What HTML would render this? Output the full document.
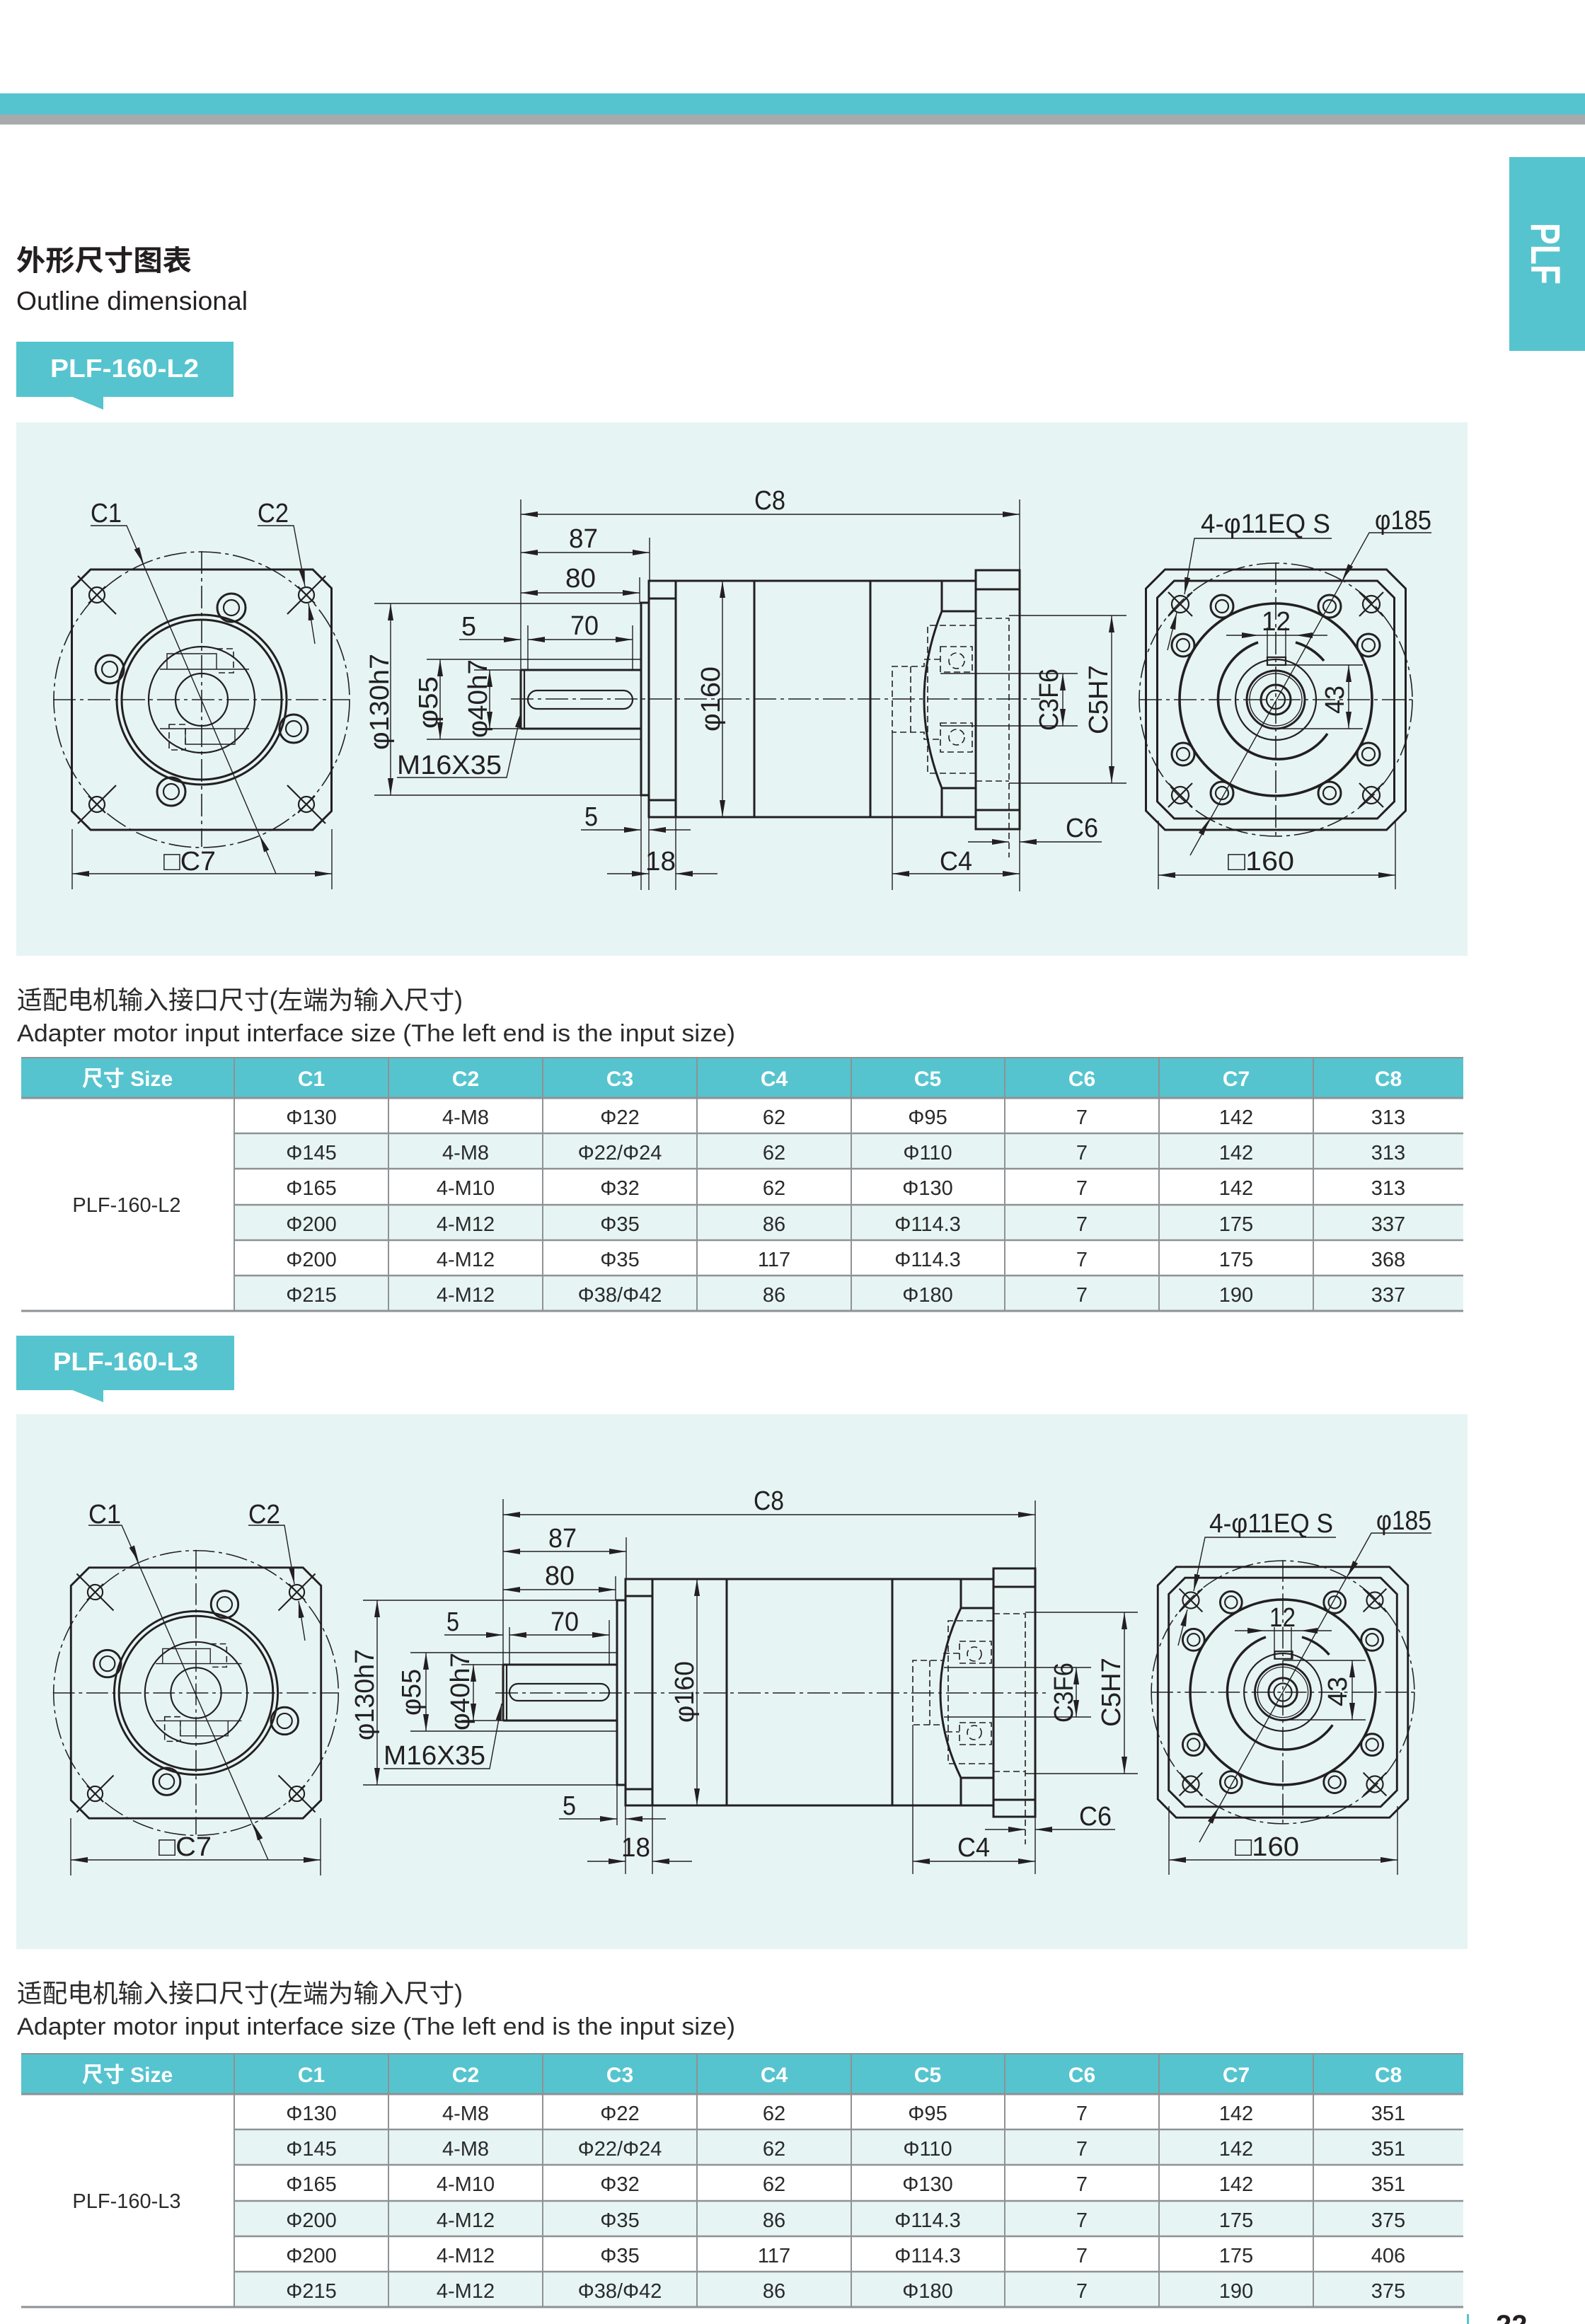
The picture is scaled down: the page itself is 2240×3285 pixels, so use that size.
<!DOCTYPE html>
<html><head><meta charset="utf-8"><style>
html,body{margin:0;padding:0;background:#fff;}
body{width:2240px;height:3285px;overflow:hidden;}
svg{display:block;}
.k{fill:none;stroke:#231f20;stroke-width:3}
.kk{fill:none;stroke:#231f20;stroke-width:3.6}
.m{fill:none;stroke:#231f20;stroke-width:2.2}
.t{fill:none;stroke:#231f20;stroke-width:1.4}
.d{fill:none;stroke:#231f20;stroke-width:1.6;stroke-dasharray:9 5}
.c{fill:none;stroke:#231f20;stroke-width:1.6;stroke-dasharray:32 6 5 6}
.dim{fill:none;stroke:#231f20;stroke-width:1.4;marker-start:url(#a);marker-end:url(#a)}
.ae{fill:none;stroke:#231f20;stroke-width:1.4;marker-end:url(#a)}
.ar{fill:none;stroke:none;marker-end:url(#a)}
.dt{font-family:"Liberation Sans",sans-serif;font-size:38px;fill:#231f20}
.cell{font-family:"Liberation Sans",sans-serif;font-size:29px;fill:#2a2a2a;text-anchor:middle}
.hd{font-family:"Liberation Sans","Noto Sans CJK SC",sans-serif;font-size:30px;font-weight:bold;fill:#fff;text-anchor:middle}
.gl{stroke:#8e9295;fill:none}
</style></head><body>
<svg width="2240" height="3285" viewBox="0 0 2240 3285" xmlns="http://www.w3.org/2000/svg">
<defs>
<marker id="a" viewBox="0 0 24 8" refX="24" refY="4" markerWidth="24" markerHeight="8" markerUnits="userSpaceOnUse" orient="auto-start-reverse"><path d="M0,0L24,4L0,8z" fill="#231f20"/></marker>
<g id="hx"><circle class="m" r="12"/><path class="m" d="M-17,-17L17,17M-17,17L17,-17"/></g>
<g id="hxL"><circle class="m" r="11"/><path class="m" d="M-27,-27L27,27M-12,12L12,-12"/></g>
<g id="bh"><circle class="k" r="16"/><circle class="m" r="9"/></g>
<g id="bhL"><circle class="k" r="20"/><circle class="m" r="11"/></g>
<g id="LV">
<path class="k" d="M-157,-184H157L183.5,-157.5V157.5L157,184H-157L-183.5,157.5V-157.5Z"/>
<circle class="c" r="209"/>
<path class="c" d="M-210,0H209M0,-210V208"/>
<use href="#hxL" x="-148" y="-148"/>
<use href="#hxL" transform="translate(148,-148) rotate(90)"/>
<use href="#hxL" transform="translate(-148,148) rotate(90)"/>
<use href="#hxL" x="148" y="148"/>
<use href="#bhL" x="42" y="-130"/>
<use href="#bhL" x="-130" y="-43"/>
<use href="#bhL" x="130" y="41"/>
<use href="#bhL" x="-43" y="130"/>
<circle class="k" r="120"/><circle class="k" r="113"/><circle class="m" r="75"/><circle class="m" r="37"/>
<path class="t" d="M-49,-65H21V-43H-49Z M-59,-43H67"/>
<path class="d" d="M21,-72H45V-38H21"/>
<path class="d" d="M-46,35H-23V71H-46Z"/>
<path class="t" d="M-23,41H47V63H-23Z M-59,41H67"/>
</g>
<g id="RV">
<path class="k" d="M-156.5,-184H156.5L183.5,-157V157L156.5,184H-156.5L-183.5,157V-157Z"/>
<path class="k" d="M-143.5,-168H143.5L167.5,-144V144L143.5,168H-143.5L-167.5,144V-144Z"/>
<circle class="c" r="193"/>
<path class="c" d="M-193,0H195M0,-194V194"/>
<use href="#hx" x="-135" y="-135"/><use href="#hx" x="135" y="-135"/>
<use href="#hx" x="-135" y="135"/><use href="#hx" x="135" y="135"/>
<use href="#bh" x="-76" y="-132"/><use href="#bh" x="76" y="-132"/>
<use href="#bh" x="-131" y="-77"/><use href="#bh" x="131" y="-77"/>
<use href="#bh" x="-131" y="77"/><use href="#bh" x="131" y="77"/>
<use href="#bh" x="-76" y="132"/><use href="#bh" x="76" y="132"/>
<circle class="kk" r="136"/>
<path class="kk" d="M-25,-81A85,85 0 1 0 73,48"/>
<path class="kk" d="M28,-81A85,85 0 0 1 68,-55"/>
<circle class="m" r="57"/>
<circle class="k" r="41"/><circle class="t" r="37"/>
<circle class="k" r="21"/><circle class="m" r="13"/>
<rect class="m" x="-12" y="-60" width="26" height="11"/>
</g>
</defs>

<!-- header bars -->
<rect x="0" y="0" width="2240" height="3285" fill="#fff"/>
<rect x="0" y="132" width="2240" height="30" fill="#56c4ce"/>
<rect x="0" y="162" width="2240" height="14" fill="#a7a9ac"/>
<rect x="2133" y="222" width="107" height="274" fill="#56c4ce"/>
<text transform="translate(2164,315) rotate(90)" font-family="Liberation Sans,sans-serif" font-size="58" font-weight="bold" fill="#fff" textLength="87" lengthAdjust="spacingAndGlyphs">PLF</text>

<text x="23" y="382" font-family="Liberation Sans,Noto Sans CJK SC,sans-serif" font-size="40" font-weight="bold" fill="#231f20" textLength="248" lengthAdjust="spacingAndGlyphs">外形尺寸图表</text>
<text x="23" y="438" font-family="Liberation Sans,sans-serif" font-size="37" fill="#231f20" textLength="327" lengthAdjust="spacingAndGlyphs">Outline dimensional</text>

<!-- label 1 -->
<rect x="23" y="483" width="307" height="78" fill="#56c4ce"/>
<polygon points="100,560 146,560 146,579" fill="#56c4ce"/>
<text x="71" y="533" font-family="Liberation Sans,sans-serif" font-size="36" font-weight="bold" fill="#fff" textLength="210" lengthAdjust="spacingAndGlyphs">PLF-160-L2</text>

<!-- panel 1 -->
<rect x="23" y="597" width="2051" height="754" fill="#e6f4f4"/>

<!-- Drawing 1 left view -->
<use href="#LV" transform="translate(285,989)"/>
<text class="dt" x="128" y="738" textLength="44" lengthAdjust="spacingAndGlyphs">C1</text>
<path class="t" d="M128,743H179L390,1235"/>
<path class="ar" d="M199,788L203,797"/>
<path class="ar" d="M371,1190L367,1181"/>
<text class="dt" x="364" y="738" textLength="44" lengthAdjust="spacingAndGlyphs">C2</text>
<path class="ae" d="M364,743H415L431,829"/>
<path class="ae" d="M445,910L436,853"/>
<path class="dim" d="M102,1235H469"/>
<path class="t" d="M102,1172V1257M469,1172V1257"/>
<text class="dt" x="231" y="1230" textLength="74" lengthAdjust="spacingAndGlyphs">□C7</text>

<!-- Drawing 1 middle view -->
<path class="k" d="M736,947H906M736,1030H906M736,947V1030"/>
<path class="m" d="M741,947V1030"/>
<rect class="m" x="746" y="976" width="148" height="26" rx="13"/>
<rect class="k" x="906" y="852" width="11" height="272"/>
<rect class="k" x="917" y="821" width="38" height="334"/>
<path class="k" d="M917,846H955M917,1131H955"/>
<rect class="k" x="955" y="821" width="424" height="334"/>
<path class="k" d="M1066,821V1155M1230,821V1155"/>
<path class="k" d="M1331,821V864Q1281,989 1331,1114V1155M1331,864H1379M1331,1114H1379"/>
<rect class="k" x="1379" y="806" width="62" height="366"/>
<path class="k" d="M1379,833H1441M1379,1145H1441"/>
<path class="d" d="M1379,874H1426V1212M1379,1104H1426"/>
<path class="d" d="M1379,884H1311V1093H1379"/>
<rect class="d" x="1329" y="914" width="45" height="36"/>
<rect class="d" x="1329" y="1022" width="45" height="41"/>
<circle class="d" cx="1352" cy="934" r="11"/>
<circle class="d" cx="1352" cy="1042" r="11"/>
<path class="d" d="M1329,932H1306V942H1261V1035H1306V1045H1329M1287,942V1035"/>
<path class="c" d="M722,988H1470"/>
<!-- dims -->
<path class="t" d="M736,706V947M1441,706V806"/>
<path class="dim" d="M736,727H1441"/>
<text class="dt" x="1066" y="720" textLength="44" lengthAdjust="spacingAndGlyphs">C8</text>
<path class="t" d="M918,760V821"/>
<path class="dim" d="M736,781H918"/>
<text class="dt" x="804" y="774" textLength="41" lengthAdjust="spacingAndGlyphs">87</text>
<path class="t" d="M904,816V852"/>
<path class="dim" d="M736,838H904"/>
<text class="dt" x="799" y="830" textLength="43" lengthAdjust="spacingAndGlyphs">80</text>
<path class="t" d="M746,884V947M894,884V947"/>
<path class="dim" d="M746,904H894"/>
<text class="dt" x="806" y="897" textLength="40" lengthAdjust="spacingAndGlyphs">70</text>
<path class="ae" d="M649,904H736"/>
<text class="dt" x="652" y="898" textLength="21" lengthAdjust="spacingAndGlyphs">5</text>
<path class="t" d="M529,853H906M529,1124H906"/>
<path class="dim" d="M552,853V1124"/>
<text class="dt" transform="translate(549,1060) rotate(-90)" textLength="136" lengthAdjust="spacingAndGlyphs">φ130h7</text>
<path class="t" d="M603,932H906M603,1045H906"/>
<path class="dim" d="M622,932V1045"/>
<text class="dt" transform="translate(618,1030) rotate(-90)" textLength="74" lengthAdjust="spacingAndGlyphs">φ55</text>
<path class="t" d="M670,947H736M670,1030H736"/>
<path class="dim" d="M692,947V1030"/>
<text class="dt" transform="translate(688,1043) rotate(-90)" textLength="111" lengthAdjust="spacingAndGlyphs">φ40h7</text>
<text class="dt" x="561" y="1094" textLength="148" lengthAdjust="spacingAndGlyphs">M16X35</text>
<path class="ae" d="M561,1099H716L737,1005"/>
<text class="dt" x="826" y="1167" textLength="19" lengthAdjust="spacingAndGlyphs">5</text>
<path class="ae" d="M821,1173H906"/>
<path class="ae" d="M976,1173H917"/>
<path class="t" d="M906,1124V1258M917,1155V1258M955,1155V1258"/>
<path class="ae" d="M858,1235H917"/>
<path class="ae" d="M1014,1235H955"/>
<text class="dt" x="912" y="1230" textLength="43" lengthAdjust="spacingAndGlyphs">18</text>
<path class="dim" d="M1021,821V1155"/>
<text class="dt" transform="translate(1017,1034) rotate(-90)" textLength="92" lengthAdjust="spacingAndGlyphs">φ160</text>
<path class="t" d="M1261,1035V1258M1441,1172V1260"/>
<path class="dim" d="M1261,1235H1441"/>
<text class="dt" x="1328" y="1230" textLength="46" lengthAdjust="spacingAndGlyphs">C4</text>
<path class="ae" d="M1368,1190H1426"/>
<path class="ae" d="M1557,1190H1441"/>
<text class="dt" x="1506" y="1183" textLength="46" lengthAdjust="spacingAndGlyphs">C6</text>
<path class="t" d="M1329,952H1523M1329,1026H1523"/>
<path class="dim" d="M1502,952V1026"/>
<text class="dt" transform="translate(1495,1033) rotate(-90)" textLength="88" lengthAdjust="spacingAndGlyphs">C3F6</text>
<path class="t" d="M1426,870H1592M1426,1107H1592"/>
<path class="dim" d="M1571,870V1107"/>
<text class="dt" transform="translate(1565,1038) rotate(-90)" textLength="98" lengthAdjust="spacingAndGlyphs">C5H7</text>

<!-- Drawing 1 right view -->
<use href="#RV" transform="translate(1803,989)"/>
<path class="t" d="M1791,887V935M1817,887V935M1733,898H1876"/>
<path class="ar" d="M1770,898H1779"/>
<path class="ar" d="M1840,898H1831"/>
<text class="dt" x="1783" y="891" textLength="41" lengthAdjust="spacingAndGlyphs">12</text>
<path class="t" d="M1812,940H1926M1812,1030H1926"/>
<path class="dim" d="M1906,940V1030"/>
<text class="dt" transform="translate(1899,1009) rotate(-90)" textLength="40" lengthAdjust="spacingAndGlyphs">43</text>
<text class="dt" x="1697" y="753" textLength="183" lengthAdjust="spacingAndGlyphs">4-φ11EQ S</text>
<path class="ae" d="M1882,761H1688L1674,840"/>
<path class="ae" d="M1650,919L1663,866"/>
<text class="dt" x="1943" y="748" textLength="80" lengthAdjust="spacingAndGlyphs">φ185</text>
<path class="t" d="M2023,753H1935L1682,1209"/>
<path class="ar" d="M1902,811L1897,820"/>
<path class="ar" d="M1704,1167L1709,1158"/>
<path class="dim" d="M1637,1237H1972"/>
<path class="t" d="M1637,1160V1257M1972,1160V1257"/>
<text class="dt" x="1735" y="1230" textLength="94" lengthAdjust="spacingAndGlyphs">□160</text>

<!-- Table 1 titles -->
<text x="24" y="1426" font-family="Liberation Sans,Noto Sans CJK SC,sans-serif" font-size="36" fill="#2a2a2a" textLength="630" lengthAdjust="spacingAndGlyphs">适配电机输入接口尺寸(左端为输入尺寸)</text>
<text x="24" y="1472" font-family="Liberation Sans,sans-serif" font-size="34" fill="#2a2a2a" textLength="1015" lengthAdjust="spacingAndGlyphs">Adapter motor input interface size (The left end is the input size)</text>

<!-- Table 1 -->
<rect x="30" y="1495" width="2038" height="57" fill="#56c4ce"/>
<rect x="331" y="1602" width="1737" height="50" fill="#e6f4f4"/>
<rect x="331" y="1703" width="1737" height="50" fill="#e6f4f4"/>
<rect x="331" y="1803" width="1737" height="50" fill="#e6f4f4"/>
<path class="gl" stroke-width="2" d="M30,1495H2068"/>
<path class="gl" stroke-width="3" d="M30,1552H2068M30,1853H2068"/>
<path class="gl" stroke-width="2.5" d="M331,1602H2068M331,1652H2068M331,1703H2068M331,1753H2068M331,1803H2068"/>
<path class="gl" stroke-width="2" d="M331,1495V1853M549,1495V1853M767,1495V1853M985,1495V1853M1203,1495V1853M1420,1495V1853M1638,1495V1853M1856,1495V1853"/>
<text class="hd" x="180" y="1535">尺寸 Size</text>
<text class="hd" x="440" y="1535">C1</text><text class="hd" x="658" y="1535">C2</text><text class="hd" x="876" y="1535">C3</text><text class="hd" x="1094" y="1535">C4</text><text class="hd" x="1311" y="1535">C5</text><text class="hd" x="1529" y="1535">C6</text><text class="hd" x="1747" y="1535">C7</text><text class="hd" x="1962" y="1535">C8</text>
<text class="cell" x="179" y="1713" font-size="28">PLF-160-L2</text>
<g class="cell">
<text x="440" y="1589">Φ130</text><text x="658" y="1589">4-M8</text><text x="876" y="1589">Φ22</text><text x="1094" y="1589">62</text><text x="1311" y="1589">Φ95</text><text x="1529" y="1589">7</text><text x="1747" y="1589">142</text><text x="1962" y="1589">313</text>
<text x="440" y="1639">Φ145</text><text x="658" y="1639">4-M8</text><text x="876" y="1639">Φ22/Φ24</text><text x="1094" y="1639">62</text><text x="1311" y="1639">Φ110</text><text x="1529" y="1639">7</text><text x="1747" y="1639">142</text><text x="1962" y="1639">313</text>
<text x="440" y="1689">Φ165</text><text x="658" y="1689">4-M10</text><text x="876" y="1689">Φ32</text><text x="1094" y="1689">62</text><text x="1311" y="1689">Φ130</text><text x="1529" y="1689">7</text><text x="1747" y="1689">142</text><text x="1962" y="1689">313</text>
<text x="440" y="1740">Φ200</text><text x="658" y="1740">4-M12</text><text x="876" y="1740">Φ35</text><text x="1094" y="1740">86</text><text x="1311" y="1740">Φ114.3</text><text x="1529" y="1740">7</text><text x="1747" y="1740">175</text><text x="1962" y="1740">337</text>
<text x="440" y="1790">Φ200</text><text x="658" y="1790">4-M12</text><text x="876" y="1790">Φ35</text><text x="1094" y="1790">117</text><text x="1311" y="1790">Φ114.3</text><text x="1529" y="1790">7</text><text x="1747" y="1790">175</text><text x="1962" y="1790">368</text>
<text x="440" y="1840">Φ215</text><text x="658" y="1840">4-M12</text><text x="876" y="1840">Φ38/Φ42</text><text x="1094" y="1840">86</text><text x="1311" y="1840">Φ180</text><text x="1529" y="1840">7</text><text x="1747" y="1840">190</text><text x="1962" y="1840">337</text>
</g>

<!-- label 2 -->
<rect x="23" y="1888" width="308" height="77" fill="#56c4ce"/>
<polygon points="100,1964 146,1964 146,1982" fill="#56c4ce"/>
<text x="75" y="1937" font-family="Liberation Sans,sans-serif" font-size="36" font-weight="bold" fill="#fff" textLength="205" lengthAdjust="spacingAndGlyphs">PLF-160-L3</text>

<!-- panel 2 -->
<rect x="23" y="1999" width="2051" height="756" fill="#e6f4f4"/>

<!-- Drawing 2 left view -->
<use href="#LV" transform="translate(277,2393) scale(0.963)"/>
<text class="dt" x="125" y="2153" textLength="46" lengthAdjust="spacingAndGlyphs">C1</text>
<path class="t" d="M125,2156H172L379,2629"/>
<path class="ar" d="M192,2199L196,2208"/>
<path class="ar" d="M362,2587L358,2578"/>
<text class="dt" x="351" y="2153" textLength="45" lengthAdjust="spacingAndGlyphs">C2</text>
<path class="ae" d="M351,2156H402L416,2239"/>
<path class="ae" d="M431,2319L422,2263"/>
<path class="dim" d="M100,2629H453"/>
<path class="t" d="M100,2570V2651M453,2570V2651"/>
<text class="dt" x="224" y="2623" textLength="75" lengthAdjust="spacingAndGlyphs">□C7</text>

<!-- Drawing 2 middle view -->
<path class="k" d="M711,2353H872M711,2432H872M711,2353V2432"/>
<path class="m" d="M716,2353V2432"/>
<rect class="m" x="720" y="2380" width="141" height="24" rx="12"/>
<rect class="k" x="872" y="2262" width="12" height="261"/>
<rect class="k" x="884" y="2232" width="38" height="320"/>
<path class="k" d="M884,2256H922M884,2529H922"/>
<rect class="k" x="922" y="2232" width="482" height="320"/>
<path class="k" d="M1027,2232V2552M1261,2232V2552"/>
<path class="k" d="M1358,2232V2273Q1300,2393 1358,2513V2552M1358,2273H1404M1358,2513H1404"/>
<rect class="k" x="1404" y="2217" width="59" height="351"/>
<path class="k" d="M1404,2243H1463M1404,2544H1463"/>
<path class="d" d="M1404,2281H1449V2607M1404,2504H1449"/>
<path class="d" d="M1403,2291H1340V2493H1403"/>
<rect class="d" x="1356" y="2320" width="45" height="31"/>
<rect class="d" x="1356" y="2435" width="45" height="31"/>
<circle class="d" cx="1377" cy="2338" r="10"/>
<circle class="d" cx="1377" cy="2449" r="10"/>
<path class="d" d="M1356,2337H1334V2347H1290V2438H1334V2448H1356M1314,2347V2438"/>
<path class="c" d="M700,2393H1480"/>
<!-- dims -->
<path class="t" d="M711,2119V2353M1463,2121V2217"/>
<path class="dim" d="M711,2141H1463"/>
<text class="dt" x="1065" y="2134" textLength="43" lengthAdjust="spacingAndGlyphs">C8</text>
<path class="t" d="M885,2173V2232"/>
<path class="dim" d="M711,2193H885"/>
<text class="dt" x="775" y="2187" textLength="40" lengthAdjust="spacingAndGlyphs">87</text>
<path class="t" d="M870,2228V2262"/>
<path class="dim" d="M711,2247H870"/>
<text class="dt" x="770" y="2240" textLength="42" lengthAdjust="spacingAndGlyphs">80</text>
<path class="t" d="M720,2300V2353M861,2290V2353"/>
<path class="dim" d="M720,2311H861"/>
<text class="dt" x="778" y="2305" textLength="40" lengthAdjust="spacingAndGlyphs">70</text>
<path class="ae" d="M628,2311H711"/>
<text class="dt" x="631" y="2305" textLength="18" lengthAdjust="spacingAndGlyphs">5</text>
<path class="t" d="M513,2262H872M513,2523H872"/>
<path class="dim" d="M533,2262V2523"/>
<text class="dt" transform="translate(528,2460) rotate(-90)" textLength="129" lengthAdjust="spacingAndGlyphs">φ130h7</text>
<path class="t" d="M580,2336H872M580,2447H872"/>
<path class="dim" d="M602,2336V2447"/>
<text class="dt" transform="translate(594,2425) rotate(-90)" textLength="66" lengthAdjust="spacingAndGlyphs">φ55</text>
<path class="t" d="M652,2353H711M652,2432H711"/>
<path class="dim" d="M669,2353V2432"/>
<text class="dt" transform="translate(663,2446) rotate(-90)" textLength="110" lengthAdjust="spacingAndGlyphs">φ40h7</text>
<text class="dt" x="542" y="2494" textLength="144" lengthAdjust="spacingAndGlyphs">M16X35</text>
<path class="ae" d="M542,2500H692L709,2408"/>
<text class="dt" x="795" y="2565" textLength="19" lengthAdjust="spacingAndGlyphs">5</text>
<path class="ae" d="M790,2571H872"/>
<path class="ae" d="M941,2571H884"/>
<path class="t" d="M872,2523V2580M884,2552V2649M922,2552V2649"/>
<path class="ae" d="M830,2631H884"/>
<path class="ae" d="M978,2631H922"/>
<text class="dt" x="878" y="2624" textLength="41" lengthAdjust="spacingAndGlyphs">18</text>
<path class="dim" d="M985,2232V2552"/>
<text class="dt" transform="translate(980,2435) rotate(-90)" textLength="87" lengthAdjust="spacingAndGlyphs">φ160</text>
<path class="t" d="M1290,2438V2649M1463,2568V2649"/>
<path class="dim" d="M1290,2631H1463"/>
<text class="dt" x="1353" y="2624" textLength="46" lengthAdjust="spacingAndGlyphs">C4</text>
<path class="ae" d="M1392,2586H1449"/>
<path class="ae" d="M1576,2586H1463"/>
<text class="dt" x="1525" y="2580" textLength="46" lengthAdjust="spacingAndGlyphs">C6</text>
<path class="t" d="M1334,2357H1542M1334,2427H1542"/>
<path class="dim" d="M1521,2357V2427"/>
<text class="dt" transform="translate(1516,2435) rotate(-90)" textLength="85" lengthAdjust="spacingAndGlyphs">C3F6</text>
<path class="t" d="M1449,2279H1608M1449,2507H1608"/>
<path class="dim" d="M1589,2279V2507"/>
<text class="dt" transform="translate(1583,2441) rotate(-90)" textLength="98" lengthAdjust="spacingAndGlyphs">C5H7</text>

<!-- Drawing 2 right view -->
<use href="#RV" transform="translate(1813,2392) scale(0.963)"/>
<path class="t" d="M1801,2300V2345M1825,2300V2345M1745,2305H1882"/>
<path class="ar" d="M1778,2305H1787"/>
<path class="ar" d="M1847,2305H1838"/>
<text class="dt" x="1794" y="2299" textLength="37" lengthAdjust="spacingAndGlyphs">12</text>
<path class="t" d="M1813,2347H1930M1813,2431H1930"/>
<path class="dim" d="M1911,2347V2431"/>
<text class="dt" transform="translate(1903,2412) rotate(-90)" textLength="42" lengthAdjust="spacingAndGlyphs">43</text>
<text class="dt" x="1709" y="2166" textLength="175" lengthAdjust="spacingAndGlyphs">4-φ11EQ S</text>
<path class="ae" d="M1888,2173H1703L1687,2249"/>
<path class="ae" d="M1665,2326L1678,2275"/>
<text class="dt" x="1945" y="2162" textLength="78" lengthAdjust="spacingAndGlyphs">φ185</text>
<path class="t" d="M2023,2167H1938L1695,2604"/>
<path class="ar" d="M1909,2220L1904,2229"/>
<path class="ar" d="M1717,2564L1722,2555"/>
<path class="dim" d="M1652,2629H1975"/>
<path class="t" d="M1652,2553V2650M1975,2553V2650"/>
<text class="dt" x="1745" y="2623" textLength="91" lengthAdjust="spacingAndGlyphs">□160</text>

<!-- Table 2 titles -->
<text x="24" y="2830" font-family="Liberation Sans,Noto Sans CJK SC,sans-serif" font-size="36" fill="#2a2a2a" textLength="630" lengthAdjust="spacingAndGlyphs">适配电机输入接口尺寸(左端为输入尺寸)</text>
<text x="24" y="2876" font-family="Liberation Sans,sans-serif" font-size="34" fill="#2a2a2a" textLength="1015" lengthAdjust="spacingAndGlyphs">Adapter motor input interface size (The left end is the input size)</text>

<!-- Table 2 -->
<rect x="30" y="2903" width="2038" height="57" fill="#56c4ce"/>
<rect x="331" y="3010" width="1737" height="50" fill="#e6f4f4"/>
<rect x="331" y="3111" width="1737" height="50" fill="#e6f4f4"/>
<rect x="331" y="3211" width="1737" height="50" fill="#e6f4f4"/>
<path class="gl" stroke-width="2" d="M30,2903H2068"/>
<path class="gl" stroke-width="3" d="M30,2960H2068M30,3261H2068"/>
<path class="gl" stroke-width="2.5" d="M331,3010H2068M331,3060H2068M331,3111H2068M331,3161H2068M331,3211H2068"/>
<path class="gl" stroke-width="2" d="M331,2903V3261M549,2903V3261M767,2903V3261M985,2903V3261M1203,2903V3261M1420,2903V3261M1638,2903V3261M1856,2903V3261"/>
<text class="hd" x="180" y="2943">尺寸 Size</text>
<text class="hd" x="440" y="2943">C1</text><text class="hd" x="658" y="2943">C2</text><text class="hd" x="876" y="2943">C3</text><text class="hd" x="1094" y="2943">C4</text><text class="hd" x="1311" y="2943">C5</text><text class="hd" x="1529" y="2943">C6</text><text class="hd" x="1747" y="2943">C7</text><text class="hd" x="1962" y="2943">C8</text>
<text class="cell" x="179" y="3121" font-size="28">PLF-160-L3</text>
<g class="cell">
<text x="440" y="2997">Φ130</text><text x="658" y="2997">4-M8</text><text x="876" y="2997">Φ22</text><text x="1094" y="2997">62</text><text x="1311" y="2997">Φ95</text><text x="1529" y="2997">7</text><text x="1747" y="2997">142</text><text x="1962" y="2997">351</text>
<text x="440" y="3047">Φ145</text><text x="658" y="3047">4-M8</text><text x="876" y="3047">Φ22/Φ24</text><text x="1094" y="3047">62</text><text x="1311" y="3047">Φ110</text><text x="1529" y="3047">7</text><text x="1747" y="3047">142</text><text x="1962" y="3047">351</text>
<text x="440" y="3097">Φ165</text><text x="658" y="3097">4-M10</text><text x="876" y="3097">Φ32</text><text x="1094" y="3097">62</text><text x="1311" y="3097">Φ130</text><text x="1529" y="3097">7</text><text x="1747" y="3097">142</text><text x="1962" y="3097">351</text>
<text x="440" y="3148">Φ200</text><text x="658" y="3148">4-M12</text><text x="876" y="3148">Φ35</text><text x="1094" y="3148">86</text><text x="1311" y="3148">Φ114.3</text><text x="1529" y="3148">7</text><text x="1747" y="3148">175</text><text x="1962" y="3148">375</text>
<text x="440" y="3198">Φ200</text><text x="658" y="3198">4-M12</text><text x="876" y="3198">Φ35</text><text x="1094" y="3198">117</text><text x="1311" y="3198">Φ114.3</text><text x="1529" y="3198">7</text><text x="1747" y="3198">175</text><text x="1962" y="3198">406</text>
<text x="440" y="3248">Φ215</text><text x="658" y="3248">4-M12</text><text x="876" y="3248">Φ38/Φ42</text><text x="1094" y="3248">86</text><text x="1311" y="3248">Φ180</text><text x="1529" y="3248">7</text><text x="1747" y="3248">190</text><text x="1962" y="3248">375</text>
</g>

<!-- footer -->
<rect x="2073" y="3271" width="3" height="14" fill="#56c4ce"/>
<text x="2114" y="3300" font-family="Liberation Sans,sans-serif" font-size="40" font-weight="bold" fill="#231f20">22</text>
</svg>
</body></html>
